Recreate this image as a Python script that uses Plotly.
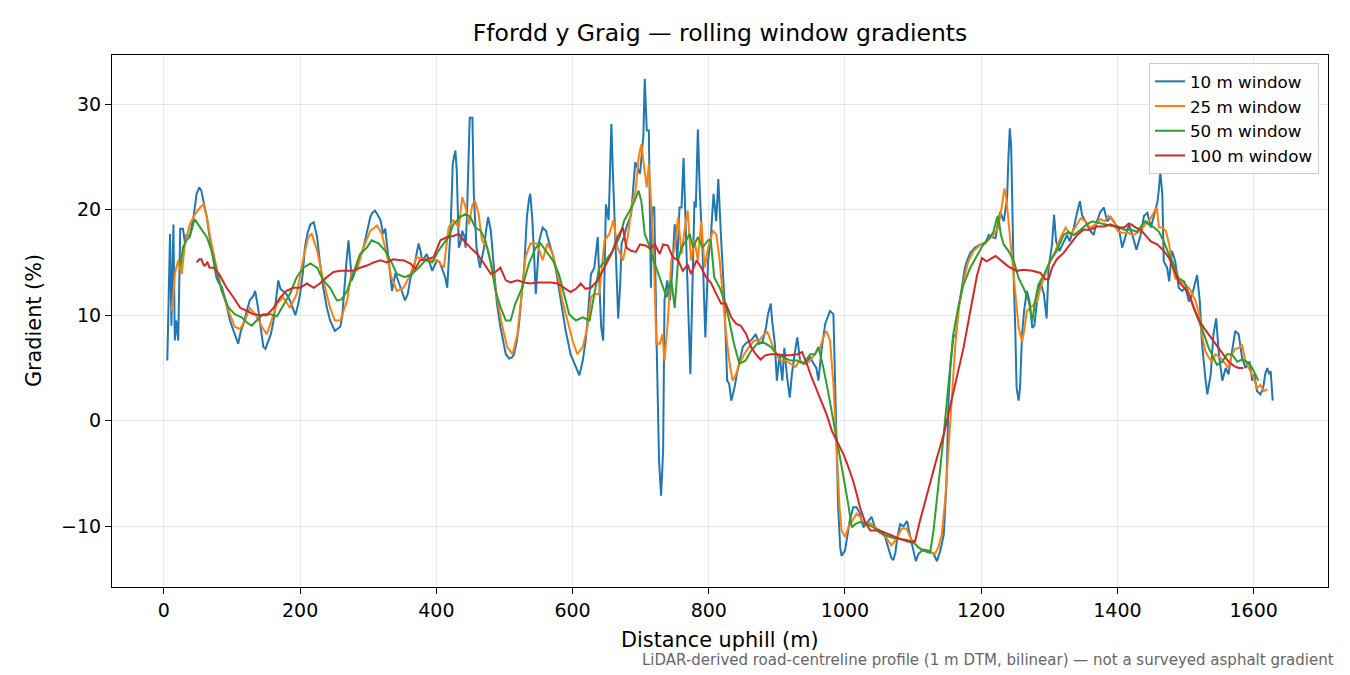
import plotly.graph_objects as go

# (distance m, gradient %) for each rolling window
w10 = [(5, 5.7), (7, 11), (9, 17.7), (11, 9), (12, 14), (14, 18.6), (16, 7.6), (18, 9.5), (21, 7.6), (24, 18.2),
       (28, 18.2), (31, 16.8), (33, 17.6), (38, 17.5), (44, 19.5), (48, 21.5), (52, 22.1), (55, 21.8), (59, 20.5),
       (63, 19.3), (68, 17), (73, 15.2), (77, 13.6), (81, 13), (85, 12.7), (90, 11.5), (97, 9.5), (104, 8.2),
       (109, 7.3), (113, 8.5), (117, 9.2), (122, 10.5), (126, 11.4), (131, 11.8), (134, 12.3), (138, 10.8),
       (141, 9.2), (146, 7), (149, 6.8), (153, 7.6), (157, 8.2), (161, 9.5), (165, 11.5), (168, 13.3), (171, 12.5),
       (175, 12.3), (180, 12), (185, 11.4), (190, 10.5), (193, 10), (197, 11), (200, 12), (204, 14), (207, 16.4),
       (211, 17.8), (215, 18.6), (220, 18.8), (225, 17.4), (229, 15), (234, 12.6), (239, 10.8), (244, 9.5),
       (251, 8.5), (259, 8.9), (262, 10), (264, 12), (268, 15), (271, 17.1), (274, 15), (276, 13.3), (280, 14),
       (283, 14.5), (288, 15.5), (293, 16.4), (298, 18), (303, 19.3), (306, 19.7), (310, 19.9), (314, 19.5),
       (318, 19), (322, 17.7), (325, 18.2), (330, 15.2), (335, 12.3), (340, 14), (345, 13), (350, 12.2),
       (354, 11.4), (358, 12), (362, 13.5), (367, 14.5), (371, 16), (374, 16.8), (377, 16), (379, 15.2),
       (383, 15.5), (386, 15.8), (390, 15), (394, 14.2), (398, 14.8), (401, 15.2), (405, 15), (408, 14.5),
       (413, 13.6), (416, 12.6), (419, 15.5), (421, 18.3), (423, 22), (424, 24.3), (426, 25), (428, 25.6),
       (430, 23.7), (433, 16.4), (436, 17), (438, 18), (441, 17.5), (443, 16.4), (445, 19.5), (447, 24.6),
       (449, 28.7), (451, 28.7), (453, 28.7), (455, 21.5), (459, 16.4), (464, 14.5), (467, 15.5), (470, 16.4),
       (473, 18), (476, 19.3), (480, 18), (485, 14.5), (489, 11.1), (494, 8.9), (498, 7.5), (502, 6.3),
       (507, 5.9), (511, 6), (514, 6.3), (518, 7.5), (521, 8.9), (525, 11.5), (529, 14.5), (533, 19.3),
       (536, 21), (538, 21.5), (541, 19), (544, 15), (546, 12), (549, 15), (551, 17), (556, 18.3), (561, 18),
       (565, 17), (568, 16.4), (572, 15.5), (575, 14.5), (580, 12.5), (583, 11.4), (587, 9.5), (590, 8.5),
       (594, 7.3), (597, 6.3), (601, 5.7), (605, 5.1), (610, 4.3), (615, 5.7), (619, 7.5), (622, 9.5),
       (625, 12), (627, 13.9), (632, 14.5), (635, 16), (637, 17.4), (640, 12), (642, 8.9), (645, 7.6),
       (647, 14), (649, 20.5), (653, 19), (655, 24), (657, 28.1), (659, 24), (661, 19.9), (664, 14.5),
       (667, 9.7), (670, 13), (672, 16.8), (676, 17.5), (679, 18.3), (683, 19), (686, 19.5), (689, 22),
       (692, 24.5), (695, 24), (699, 23.4), (702, 25.5), (704, 27), (706, 32.4), (708, 29), (709, 27.5),
       (712, 27.5), (715, 12.6), (717, 20.2), (720, 20.2), (723, 8.8), (725, 1), (727, -3.8), (730, -7.1),
       (733, -2.8), (735, 11.4), (739, 13.3), (743, 11.4), (746, 13.9), (750, 18.6), (754, 15.2), (757, 20.2),
       (760, 20.2), (763, 24.9), (767, 15.2), (770, 10.4), (773, 4.4), (777, 16.4), (779, 20.8), (781, 20.2),
       (784, 27.6), (787, 21.5), (791, 15.8), (795, 7.9), (799, 15.2), (803, 17.4), (807, 21.5), (811, 18.9),
       (814, 22.9), (818, 17.4), (823, 11.4), (827, 3.8), (830, 3.5), (833, 1.9), (838, 3.2), (842, 4.7),
       (847, 6.3), (850, 7), (854, 7.3), (858, 7.5), (862, 7.6), (866, 8), (869, 8.2), (874, 7.3), (879, 7.5),
       (884, 8.8), (887, 10.1), (891, 11.1), (893, 9.5), (897, 7.3), (900, 3.8), (904, 6.3), (908, 3.8),
       (911, 6.9), (915, 4.1), (919, 2.2), (922, 4.4), (926, 6.3), (930, 7.9), (934, 5.7), (938, 5.5),
       (942, 5.4), (946, 5.8), (949, 6), (954, 5.4), (958, 5), (961, 3.8), (966, 6.9), (971, 9.2), (976, 10.1),
       (978, 10.4), (983, 10.1), (985, 4.1), (988, -4), (990, -8.2), (993, -12), (995, -12.8), (1000, -12.3),
       (1002, -11.4), (1007, -9.5), (1012, -8.2), (1017, -8.2), (1022, -8.8), (1027, -10.1), (1031, -9.8),
       (1034, -9.5), (1039, -9.1), (1044, -10.1), (1051, -10.4), (1058, -10.8), (1063, -12), (1068, -13),
       (1071, -13.2), (1074, -12.5), (1077, -11), (1081, -9.8), (1086, -10), (1091, -9.5), (1096, -11),
       (1101, -12.5), (1104, -13.3), (1108, -12.6), (1115, -12.2), (1123, -12.3), (1130, -12.6), (1135, -13.3),
       (1140, -12.3), (1145, -10.8), (1149, -6), (1152, 1.9), (1155, 5.3), (1159, 7.9), (1163, 8.2),
       (1167, 10.7), (1172, 12.6), (1176, 14.5), (1180, 15.3), (1184, 15.9), (1191, 16.4), (1199, 16.7),
       (1206, 16.8), (1211, 17.6), (1216, 17.4), (1221, 17.3), (1225, 18.9), (1228, 19.8), (1233, 18.9),
       (1238, 21), (1240, 25), (1242, 27.7), (1244, 26), (1246, 18), (1248, 12.9), (1250, 8.8), (1252, 3.1),
       (1255, 1.9), (1257, 3.1), (1260, 8.2), (1263, 10.4), (1267, 12.3), (1271, 11.3), (1275, 8.8),
       (1278, 9), (1282, 11.3), (1287, 13.2), (1292, 12), (1296, 9.7), (1299, 14.5), (1304, 16.7),
       (1307, 19.5), (1310, 17), (1315, 16.1), (1321, 17), (1326, 17.6), (1330, 17), (1336, 18.3),
       (1341, 19.8), (1345, 20.8), (1348, 19.5), (1353, 18.9), (1360, 18), (1365, 17.6), (1370, 18.9),
       (1375, 19.8), (1380, 20.2), (1385, 18.9), (1390, 19.3), (1397, 18.6), (1402, 18.3), (1407, 16.4),
       (1412, 17.6), (1417, 18.6), (1422, 17.6), (1428, 16.2), (1434, 17.6), (1439, 19.4), (1444, 19.7),
       (1449, 18.3), (1454, 19.5), (1459, 20.8), (1461, 22), (1463, 23.6), (1466, 21.4), (1468, 15.1),
       (1473, 14.5), (1476, 13.2), (1480, 16.1), (1485, 15.1), (1490, 12.6), (1495, 12.3), (1500, 12.6),
       (1505, 11.3), (1510, 12), (1515, 13.2), (1517, 13.8), (1521, 11.3), (1524, 7.5), (1529, 4.1),
       (1532, 2.5), (1537, 4.4), (1541, 8.2), (1545, 9.7), (1549, 6.3), (1554, 3.8), (1559, 5), (1563, 4.4),
       (1568, 6.3), (1573, 8.5), (1578, 8.2), (1583, 6), (1588, 5), (1594, 5.6), (1598, 3.8), (1601, 4.4),
       (1605, 2.8), (1610, 2.5), (1614, 3.1), (1617, 4.4), (1620, 5), (1623, 4.4), (1625, 4.7), (1628, 1.9)]

w25 = [(11, 10.4), (14, 12), (16, 13.9), (21, 15.2), (26, 13.9), (31, 16.8), (38, 18.6), (46, 19.6), (53, 20.2),
       (58, 20.5), (63, 19.3), (68, 17.4), (75, 15.2), (80, 13.7), (85, 12.3), (95, 10.4), (104, 8.9),
       (112, 8.7), (119, 9.5), (126, 10.7), (134, 10.1), (144, 8.9), (151, 8.2), (158, 9.5), (166, 11.1),
       (175, 11.7), (185, 10.7), (195, 12), (205, 15.5), (212, 17.4), (217, 17.7), (225, 16.1), (234, 13.3),
       (244, 10.7), (251, 9.5), (259, 9.5), (269, 11.4), (276, 14.2), (283, 14.2), (293, 16.4), (303, 18),
       (313, 18.5), (320, 17.7), (327, 15.8), (334, 13.6), (342, 12.3), (352, 12.6), (362, 13.9), (371, 15.5),
       (381, 15.3), (391, 15.2), (401, 15.2), (411, 14.5), (418, 18.3), (425, 19), (433, 18.3), (438, 21.2),
       (443, 20.2), (448, 18.6), (453, 20.5), (457, 20.8), (462, 19.6), (467, 17.1), (475, 16.4), (482, 14.5),
       (489, 11.7), (497, 8.9), (504, 7), (512, 6.3), (519, 8.2), (526, 12.3), (531, 15.5), (538, 16.8),
       (548, 16.8), (556, 15.2), (563, 16.8), (571, 15.8), (578, 13.9), (585, 11.4), (593, 9.5), (600, 7.6),
       (607, 6.3), (615, 7), (622, 8.9), (627, 11.7), (632, 12), (639, 12), (647, 17.1), (654, 17.7),
       (660, 19), (666, 16.4), (674, 15.2), (681, 17.4), (688, 20.8), (692, 21.5), (697, 24.9), (701, 26.2),
       (704, 24.6), (709, 22.1), (712, 24.3), (716, 19.9), (720, 13.9), (723, 7.3), (728, 7.3), (732, 8.2),
       (735, 5.7), (740, 9.5), (745, 15.2), (750, 16.4), (755, 19.3), (760, 15.8), (765, 18.3), (769, 19.9),
       (774, 15.2), (779, 17.1), (784, 15.2), (789, 18.9), (794, 14.5), (799, 16.4), (806, 18), (811, 17.7),
       (816, 15.2), (820, 12), (825, 8.5), (830, 5.7), (835, 3.8), (840, 4.4), (845, 5.4), (852, 6.3),
       (859, 7), (867, 7.6), (874, 7.6), (881, 8.2), (886, 8.4), (891, 7.6), (898, 6.3), (905, 5.7),
       (913, 5.7), (920, 5.4), (927, 5.1), (934, 5.7), (942, 5.4), (949, 5.7), (956, 6.3), (964, 7),
       (968, 7.9), (973, 8.5), (978, 7.6), (983, 3.5), (988, -3), (992, -8.2), (995, -10.4), (1000, -11),
       (1005, -10.1), (1010, -9.5), (1017, -8.8), (1022, -9.1), (1029, -9.8), (1037, -9.7), (1044, -10.1),
       (1051, -10.5), (1061, -11.1), (1068, -11.8), (1076, -11.2), (1083, -10.2), (1090, -10.2), (1098, -11.3),
       (1108, -12), (1115, -12.3), (1125, -12.5), (1132, -12.6), (1137, -12), (1142, -10.8), (1147, -7.6),
       (1152, -2.9), (1157, 2.5), (1162, 7.2), (1167, 10.7), (1174, 13.2), (1181, 15.1), (1189, 16.1),
       (1199, 16.7), (1208, 17), (1218, 17.6), (1225, 18.3), (1230, 20.2), (1234, 22), (1237, 21),
       (1240, 18.9), (1245, 15.7), (1250, 12), (1255, 8.8), (1260, 7.5), (1263, 8.5), (1267, 10.4),
       (1272, 10.7), (1277, 11), (1282, 11.3), (1287, 12.6), (1292, 13.5), (1297, 14.5), (1301, 15.1),
       (1309, 16.1), (1316, 17.3), (1324, 18.3), (1331, 17.6), (1338, 18.3), (1346, 19.2), (1353, 18.9),
       (1360, 18.3), (1368, 18.6), (1375, 19.1), (1381, 18.9), (1387, 19.4), (1395, 18.9), (1400, 18),
       (1407, 17.8), (1415, 17.8), (1424, 17.6), (1434, 18), (1441, 18.6), (1449, 19.2), (1454, 19.8),
       (1458, 20.2), (1461, 18.3), (1466, 18.3), (1471, 18), (1476, 16.7), (1480, 14.8), (1485, 13.5),
       (1493, 13.2), (1500, 12.9), (1507, 12.4), (1515, 11.3), (1520, 10.1), (1524, 8.2), (1529, 6.6),
       (1534, 6), (1539, 5.6), (1544, 6.3), (1551, 6), (1559, 5.3), (1563, 5), (1568, 6.3), (1573, 6.8),
       (1578, 6.9), (1583, 7.2), (1588, 5.6), (1595, 4.7), (1600, 4.1), (1605, 3.1), (1610, 3.4),
       (1615, 2.8), (1620, 3)]

w50 = [(24, 14.5), (28, 16.4), (33, 17.1), (38, 17.4), (45, 19.1), (53, 18.3), (63, 17.4), (70, 16.1), (77, 14.2),
       (85, 12.3), (95, 10.7), (104, 10.1), (114, 9.8), (122, 9.3), (129, 9), (136, 9.5), (146, 10.1),
       (156, 10.1), (166, 9.9), (175, 10.9), (185, 12), (195, 13.6), (205, 14.5), (215, 14.9), (225, 14.5),
       (234, 13.3), (244, 12.6), (254, 11.4), (261, 11.5), (269, 12.3), (278, 13.9), (288, 15.8), (298, 16.4),
       (305, 17.1), (315, 16.8), (325, 16.1), (335, 14.9), (342, 13.9), (354, 13.6), (364, 13.9), (374, 14.5),
       (384, 15.2), (394, 15), (403, 16.1), (411, 16.8), (418, 17.4), (425, 18.6), (435, 19.3), (443, 19.6),
       (450, 19.3), (457, 18.3), (465, 18), (472, 17.1), (480, 14.9), (487, 12.3), (494, 10.8), (502, 9.5),
       (509, 9.5), (516, 11.1), (526, 12.6), (536, 14.9), (546, 16.4), (553, 16.8), (561, 16.1), (571, 15.2),
       (580, 13.9), (588, 12), (595, 10.1), (605, 9.5), (615, 9.8), (625, 9.5), (632, 12), (639, 14.5),
       (649, 15.2), (659, 16.1), (669, 17.4), (676, 19), (684, 19.9), (691, 20.8), (697, 21.8), (701, 20.8),
       (706, 17.7), (712, 16.7), (719, 15.2), (726, 13.9), (733, 12.6), (738, 11.7), (745, 13.3), (750, 10.7),
       (755, 15.2), (760, 16.4), (767, 17.1), (772, 17.7), (777, 16.4), (784, 17.4), (791, 16.4), (799, 17.1),
       (803, 17.1), (808, 13.6), (816, 12.6), (823, 11.4), (830, 9.5), (837, 7.3), (845, 5.4), (854, 5.7),
       (862, 6.6), (871, 7.3), (881, 7.4), (891, 7), (900, 6.3), (910, 6), (920, 5.7), (930, 5.7), (939, 5.4),
       (949, 6.3), (956, 6.3), (961, 7), (968, 5.1), (976, 2.5), (983, 0), (990, -2.2), (998, -5.4),
       (1005, -8), (1010, -10.1), (1015, -9.8), (1022, -9.6), (1032, -9.8), (1042, -10.1), (1051, -10.6),
       (1061, -10.9), (1071, -11.1), (1081, -11.2), (1091, -11.3), (1100, -11.5), (1108, -12), (1115, -12.3),
       (1125, -12.5), (1130, -10.4), (1135, -7.6), (1140, -4.4), (1145, -1.3), (1150, 1.9), (1154, 5),
       (1159, 8.2), (1167, 11), (1174, 12.9), (1184, 14.5), (1194, 15.7), (1203, 16.7), (1211, 17.2),
       (1218, 17.9), (1223, 19.2), (1225, 19.4), (1229, 17.6), (1233, 16.7), (1240, 16.1), (1248, 15.1),
       (1255, 13.5), (1262, 12.6), (1270, 11.3), (1275, 9.4), (1279, 11.3), (1284, 12.9), (1292, 13.8),
       (1301, 15.1), (1311, 16.1), (1321, 17.6), (1328, 17.9), (1336, 17.6), (1346, 18.1), (1355, 18.6),
       (1363, 18.9), (1375, 18.7), (1385, 18.6), (1395, 18.4), (1400, 18.4), (1410, 18.1), (1420, 18.1),
       (1429, 17.9), (1437, 18.6), (1441, 18.9), (1446, 18.6), (1454, 18.3), (1461, 17.9), (1468, 17),
       (1476, 15.7), (1483, 14.8), (1490, 13.5), (1498, 13.2), (1505, 12), (1512, 10.7), (1520, 9.4),
       (1527, 8.2), (1534, 6.9), (1541, 6), (1546, 5.3), (1554, 5.6), (1561, 6.3), (1568, 6.3), (1576, 5.6),
       (1583, 5.8), (1590, 5.6), (1598, 5), (1602, 4.4), (1607, 3.8)]

w100 = [(48, 15), (52, 15.3), (55, 15.3), (58, 14.8), (60, 14.7), (64, 15), (67, 14.5), (73, 14.5), (82, 13.8),
        (92, 12.6), (102, 11.7), (112, 10.7), (122, 10.4), (131, 10.1), (141, 10), (151, 10), (161, 10.7),
        (171, 11.7), (180, 12.3), (190, 12.6), (200, 12.6), (210, 13), (220, 12.6), (229, 13), (239, 13.6),
        (249, 14.1), (259, 14.2), (269, 14.2), (278, 14.2), (288, 14.5), (298, 14.7), (308, 15), (318, 15.2),
        (327, 15), (337, 15.3), (347, 15.2), (352, 15.2), (362, 14.9), (369, 14.4), (376, 15.2), (386, 15.3),
        (396, 15.5), (406, 17.1), (416, 17.4), (425, 17.5), (433, 17.7), (440, 17.1), (450, 16.4), (460, 15.8),
        (470, 14.9), (480, 13.9), (487, 14.1), (494, 14.5), (502, 13.3), (509, 13.1), (519, 13.3), (529, 13.1),
        (538, 13), (548, 13.1), (558, 13.1), (568, 13.1), (578, 13), (588, 12.6), (597, 12.2), (605, 12.5),
        (612, 13), (619, 12.5), (627, 12.6), (637, 13.3), (647, 14.5), (657, 15.8), (666, 17.4), (674, 18.3),
        (679, 16.4), (686, 16.1), (693, 16), (699, 16.7), (707, 16.6), (714, 16.3), (721, 16.7), (728, 15.8),
        (733, 16.7), (740, 16.6), (747, 15.5), (755, 15.2), (762, 14.2), (769, 14.8), (774, 13.9), (782, 15.2),
        (789, 14.5), (796, 13.6), (803, 13.1), (811, 12), (818, 11.1), (825, 11.1), (833, 9.8), (840, 9.2),
        (847, 9), (855, 8.2), (862, 7), (869, 6.3), (876, 5.8), (883, 6.2), (891, 6.3), (900, 6.3), (910, 6.2),
        (920, 6.2), (930, 6.3), (937, 6.5), (944, 5.4), (951, 4.1), (959, 2.8), (966, 1.6), (973, 0.6),
        (981, -1), (988, -1.9), (998, -3.2), (1005, -4.4), (1012, -5.7), (1017, -6.9), (1022, -8.2),
        (1029, -9.5), (1037, -10.4), (1051, -10.4), (1066, -10.8), (1081, -11.2), (1096, -11.5), (1103, -11.4),
        (1110, -9.5), (1118, -7.6), (1125, -5.7), (1135, -3.5), (1145, -1.3), (1154, 1.2), (1164, 4.1),
        (1174, 6.9), (1184, 10.4), (1194, 13.8), (1201, 15.4), (1208, 15.1), (1221, 15.6), (1230, 15.1),
        (1240, 14.6), (1252, 14.2), (1262, 14.3), (1275, 14.2), (1287, 14), (1294, 13.4), (1299, 13.4),
        (1304, 14.5), (1311, 15.3), (1321, 15.9), (1331, 16.8), (1341, 17.6), (1350, 18.1), (1360, 18.1),
        (1370, 18.4), (1380, 18.4), (1390, 18.6), (1400, 18.3), (1410, 18.3), (1417, 18.7), (1420, 18.6),
        (1427, 18.3), (1434, 18.1), (1441, 17.6), (1449, 17), (1459, 16.7), (1468, 16.1), (1476, 15.4),
        (1483, 14.2), (1490, 13.2), (1498, 12.6), (1505, 12), (1512, 10.7), (1520, 9.5), (1527, 8.8),
        (1534, 8.2), (1541, 7.5), (1549, 6.9), (1556, 6.3), (1563, 5.6), (1571, 5.2), (1578, 5), (1585, 5)]

series = [("10 m window", w10, "#1f77b4"),
          ("25 m window", w25, "#ff7f0e"),
          ("50 m window", w50, "#2ca02c"),
          ("100 m window", w100, "#d62728")]

x_ticks = [0, 200, 400, 600, 800, 1000, 1200, 1400, 1600]
y_ticks = [-10, 0, 10, 20, 30]

FONT = "DejaVu Sans"

fig = go.Figure()
for name, pts, colour in series:
    fig.add_trace(go.Scatter(
        x=[p[0] for p in pts], y=[p[1] for p in pts],
        mode="lines", name=name,
        line=dict(color=colour, width=2),
    ))

axis_style = dict(
    showline=True, mirror=True, linecolor="#000000", linewidth=1.2,
    ticks="outside", ticklen=6, tickcolor="#000000", tickwidth=1.2,
    showgrid=True, gridcolor="rgba(176,176,176,0.3)", gridwidth=1,
    zeroline=False, tickfont=dict(family=FONT, size=19, color="#000000"),
)

fig.update_xaxes(range=[-76.2, 1709.2], tickvals=x_ticks,
                 ticktext=[str(t) for t in x_ticks], **axis_style)
fig.update_yaxes(range=[-15.75, 34.65], tickvals=y_ticks,
                 ticktext=[str(t).replace("-", "\u2212") for t in y_ticks], **axis_style)

# the page body adds an 8 px offset, so the margins are trimmed by that amount
fig.update_layout(
    width=1350, height=675,
    margin=dict(l=104, r=30, t=47, b=96),
    paper_bgcolor="white", plot_bgcolor="white",
    font=dict(family=FONT, color="#000000"),
    title=dict(text="Ffordd y Graig \u2014 rolling window gradients",
               x=0.5, xref="paper", xanchor="center",
               y=1 - 25 / 675, yanchor="middle",
               font=dict(family=FONT, size=23.5, color="#000000")),
    legend=dict(x=0.9926, y=0.985, xanchor="right", yanchor="top",
                bgcolor="rgba(255,255,255,0.8)", bordercolor="#cccccc", borderwidth=1,
                font=dict(family=FONT, size=16.7, color="#000000"),
                itemwidth=30),
    showlegend=True,
    annotations=[
        dict(text="Distance uphill (m)", xref="paper", yref="paper", x=0.5, y=-0.0996,
             xanchor="center", yanchor="middle", showarrow=False,
             font=dict(family=FONT, size=20.8, color="#000000")),
        dict(text="Gradient (%)", xref="paper", yref="paper", x=-0.0641, y=0.5,
             xanchor="center", yanchor="middle", showarrow=False, textangle=-90,
             font=dict(family=FONT, size=20.8, color="#000000")),
        dict(text="LiDAR-derived road-centreline profile (1 m DTM, bilinear) \u2014 not a surveyed asphalt gradient",
             xref="paper", yref="paper", x=1.0066, y=-0.137,
             xanchor="right", yanchor="middle", showarrow=False,
             font=dict(family=FONT, size=15, color="#666666")),
    ],
)

fig.write_html("out.html")
